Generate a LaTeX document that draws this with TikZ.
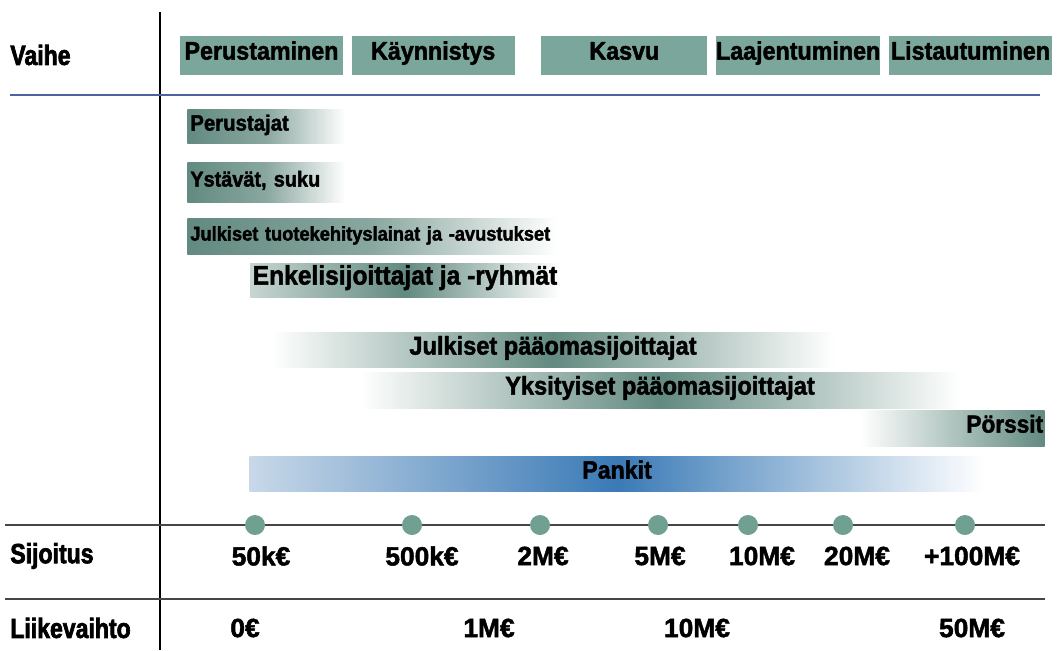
\documentclass[tikz,border=0pt]{standalone}
\usepackage{fontspec}
\setmainfont{Liberation Sans}[FakeStretch=0.92, BoldFeatures={FakeBold=1.8}]
\newfontfamily\rowfont{Liberation Sans}[FakeStretch=0.83, BoldFeatures={FakeBold=2.4}]
\newfontfamily\numfont{Liberation Sans}[BoldFeatures={FakeBold=1.8}]
\usepackage{tikz}
\usetikzlibrary{positioning}

\definecolor{stagegreen}{RGB}{122,166,155}
\definecolor{funddark}{RGB}{98,138,128}
\definecolor{bankblue}{RGB}{58,122,182}
\definecolor{banklight}{RGB}{200,216,232}
\definecolor{dotgreen}{RGB}{112,160,146}
\definecolor{phaseline}{RGB}{80,98,158}
\definecolor{axisgrey}{RGB}{70,70,70}

\newcommand{\fs}[1]{\fontsize{#1}{#1}\selectfont\bfseries}

\begin{document}
\begin{tikzpicture}[x=0.02cm, y=-0.02cm,
  stagebox/.style={fill=stagegreen, minimum width=3.26cm, minimum height=0.78cm, inner sep=0pt,
    text height=0.72em, text depth=0.2em, font=\fs{14.4}},
  rowlbl/.style={anchor=west, inner sep=0pt, font=\rowfont\fs{15.8}},
  fundbar/.style={inner sep=0pt, text height=0.72em, text depth=0.2em, font=\fs{14.6}},
  fundL/.style={fundbar, anchor=west, left color=funddark, right color=white, middle color=funddark!75, align=left, inner xsep=0.06cm},
  fundmid/.style={fundbar, left color=white, right color=white, middle color=funddark},
  dot/.style={circle, fill=dotgreen, minimum size=0.4cm, inner sep=0pt},
  val/.style={inner sep=0pt, font=\numfont\fs{15}},
  rule/.style={axisgrey, line width=1.2pt}
]
\useasboundingbox (0,0) rectangle (1060,650);

% frame lines
\draw[line width=1.5pt] (160,12) -- (160,650);
\draw[phaseline, line width=1.1pt] (10,95) -- (1040,95);
\draw[rule] (5,525) -- (1045,525);
\draw[rule] (5,599) -- (1045,599);

% phases
\node[rowlbl] (vaihe) at (10,55) {Vaihe};
\node[stagebox] (perus) at (261.5,55) {Perustaminen};
\node[stagebox, right=0.16cm of perus] (kaynn) {Käynnistys};
\node[stagebox, minimum width=3.32cm, right=0.52cm of kaynn] (kasvu) {Kasvu};
\node[stagebox, right=0.16cm of kasvu] (laaj) {Laajentuminen};
\node[stagebox, right=0.16cm of laaj] (list) {Listautuminen};

% funding sources
\node[fundL, text width=3.04cm, minimum height=0.68cm, font=\fs{12.6}] (perustajat) at (187,126) {Perustajat};
\node[fundL, text width=3.04cm, minimum height=0.80cm, font=\fs{12.3}] (ystavat) at (187,182) {Ystävät, suku};
\node[fundL, text width=7.28cm, minimum height=0.72cm, font=\fs{11.3}] (tuote) at (187,236) {Julkiset tuotekehityslainat ja -avustukset};
\node[fundbar, left color=funddark!35, right color=white, middle color=funddark, minimum width=6.2cm, minimum height=0.68cm, font=\fs{15.2}] (enkeli) at (405,280) {Enkelisijoittajat ja -ryhmät};
\node[fundmid, minimum width=11.26cm, minimum height=0.7cm] (julkpo) at (553,350) {Julkiset pääomasijoittajat};
\node[fundmid, minimum width=12cm, minimum height=0.72cm] (yksit) at (660,390) {Yksityiset pääomasijoittajat};
\node[fundbar, anchor=east, left color=white, right color=funddark, minimum height=0.72cm, text width=3.64cm, align=right, inner xsep=0.03cm, font=\fs{14}] (porssit) at (1045,428) {Pörssit};
\node[fundbar, left color=banklight, right color=white, middle color=bankblue, minimum width=14.7cm, minimum height=0.7cm, font=\fs{14.3}] (pankit) at (617,474) {Pankit};

% investment and turnover
\node[rowlbl] (sijoitus) at (10,556) {Sijoitus};
\node[rowlbl] (liikevaihto) at (10,628) {Liikevaihto};
\foreach \x/\t/\v [count=\i] in {255/261/50k€, 412/422/500k€, 540/543/2M€, 658/660/5M€, 748/762/10M€, 843/857/20M€, 965/972/+100M€} {
  \node[dot] (d\i) at (\x,525) {};
  \node[val] (s\i) at (\t,556) {\v};
}
\foreach \x/\v [count=\i] in {245/0€, 489/1M€, 697/10M€, 972/50M€}
  \node[val] (t\i) at (\x,628) {\v};

\end{tikzpicture}
\end{document}
